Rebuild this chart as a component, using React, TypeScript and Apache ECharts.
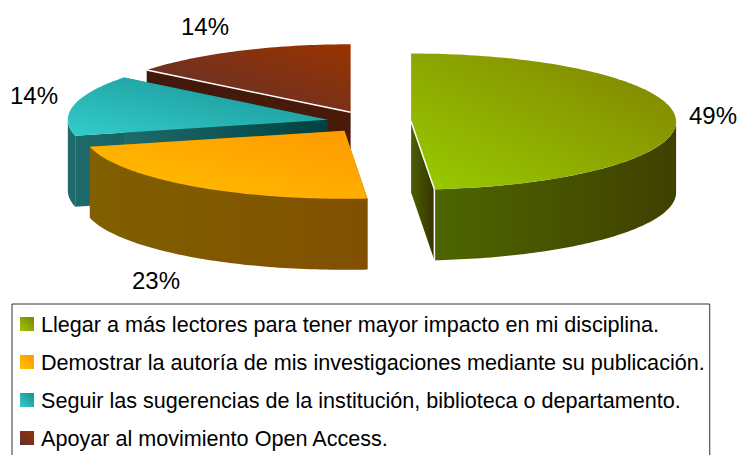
import React, { useEffect, useRef } from "react";
import * as echarts from "echarts";

const categories = [
  "Llegar a más lectores para tener mayor impacto en mi disciplina.",
  "Demostrar la autoría de mis investigaciones mediante su publicación.",
  "Seguir las sugerencias de la institución, biblioteca o departamento.",
  "Apoyar al movimiento Open Access.",
];
// The printed labels are these values rounded.
const values = [48.6, 22.6, 14.45, 14.35];

const topLight = ["#99CC00", "#FFC000", "#33CCCC", "#5C3030"];
const topDark = ["#808000", "#FF9900", "#189090", "#993300"];
const sideLeft = ["#4D6600", "#806000", "#1F6B6B", "#40180C"];
const sideRight = ["#404000", "#805000", "#004040", "#4A1A08"];
const wallLeft = ["#4D6000", "#806000", "#1F6B6B", "#40180C"];
const wallRight = ["#333300", "#806000", "#004040", "#4A1A08"];
const whiteEdges = [true, false, false, true];
const labelCenters: [number, number][] = [
  [713, 115],
  [156, 280],
  [34, 95],
  [205, 26],
];
const radiusX = [265, 262, 260, 260];

const CX = 369;
const CY = 122;
const RX = 265;
const RY = 68;
const DEPTH = 71;
const EXPLODE = 0.159;
const LABEL_FONT = "24px 'Liberation Sans', Arial, sans-serif";

const total = values.reduce((a, b) => a + b, 0);

function grad(a: string, b: string) {
  return new echarts.graphic.LinearGradient(0, 1, 1, 0, [
    { offset: 0, color: a },
    { offset: 1, color: b },
  ]);
}
function hgrad(a: string, b: string) {
  return new echarts.graphic.LinearGradient(0, 0, 1, 0, [
    { offset: 0, color: a },
    { offset: 1, color: b },
  ]);
}

function makeRenderItem(idx: number) {
  return (_params: any, api: any) => {
    const value = api.value(0);
    const before = values.slice(0, idx).reduce((a, b) => a + b, 0);
    const a0 = (before / total) * Math.PI * 2;
    const a1 = ((before + value) / total) * Math.PI * 2;
    const mid = (a0 + a1) / 2;
    const cx = CX + EXPLODE * RX * Math.sin(mid);
    const cy = CY - EXPLODE * RY * Math.cos(mid);
    const rx = radiusX[idx];
    const at = (t: number, dy = 0): number[] => [
      cx + rx * Math.sin(t),
      cy - RY * Math.cos(t) + dy,
    ];
    const arc = (s: number, e: number, dy = 0) => {
      const n = Math.max(2, Math.ceil((e - s) / 0.02));
      const out: number[][] = [];
      for (let i = 0; i <= n; i++) out.push(at(s + ((e - s) * i) / n, dy));
      return out;
    };
    const apex = [cx, cy];
    const apexLow = [cx, cy + DEPTH];
    const children: any[] = [];
    const wall = (t: number) => ({
      type: "polygon",
      shape: { points: [apex, at(t), at(t, DEPTH), apexLow] },
      style: { fill: hgrad(wallLeft[idx], wallRight[idx]) },
    });
    children.push(wall(a0), wall(a1));
    const rs = Math.max(a0, Math.PI / 2);
    const re = Math.min(a1, (Math.PI * 3) / 2);
    if (re > rs) {
      children.push({
        type: "polygon",
        shape: { points: [...arc(rs, re), ...arc(rs, re, DEPTH).reverse()] },
        style: { fill: idx === 2 ? sideLeft[idx] : hgrad(sideLeft[idx], sideRight[idx]) },
      });
    }
    children.push({
      type: "polygon",
      shape: { points: [apex, ...arc(a0, a1)] },
      style: { fill: grad(topLight[idx], topDark[idx]) },
    });
    if (whiteEdges[idx]) {
      const segs = idx === 0 ? [[apex, at(a1)], [at(a1), at(a1, DEPTH)]] : [[at(a0), apex]];
      segs.forEach((seg) => {
        children.push({
          type: "line",
          shape: { x1: seg[0][0], y1: seg[0][1], x2: seg[1][0], y2: seg[1][1] },
          style: { stroke: "#FFFFFF", lineWidth: 1.5 },
        });
      });
    }
    children.push({
      type: "text",
      style: {
        text: `${Math.round(value)}%`,
        x: labelCenters[idx][0],
        y: labelCenters[idx][1],
        align: "center",
        verticalAlign: "middle",
        font: LABEL_FONT,
        fill: "#000000",
      },
    });
    return { type: "group", children };
  };
}

// back-to-front paint order, legend keeps the category order
const paintOrder = [3, 2, 1, 0];

export default function App() {
  const ref = useRef<HTMLDivElement>(null);
  useEffect(() => {
    document.body.style.margin = "0";
    const chart = echarts.init(ref.current!, undefined, { renderer: "svg" });
    chart.setOption({
      animation: false,
      backgroundColor: "#FFFFFF",
      legend: {
        orient: "vertical",
        left: 12,
        top: 304,
        height: 500,
        padding: [9, 5, 14, 8],
        borderColor: "#333333",
        borderWidth: 1,
        itemWidth: 14,
        itemHeight: 14,
        itemGap: 16,
        icon: "rect",
        selectedMode: false,
        data: categories,
        textStyle: {
          fontFamily: "'Liberation Sans', Arial, sans-serif",
          fontSize: 21.6,
          color: "#000000",
          padding: [0, 0, 0, 2],
        },
      },
      series: paintOrder.map((i) => ({
        type: "custom",
        name: categories[i],
        coordinateSystem: "none",
        silent: true,
        itemStyle: { color: grad(topLight[i], topDark[i]) },
        data: [[values[i]]],
        renderItem: makeRenderItem(i),
      })),
    });
    return () => chart.dispose();
  }, []);
  return (
    <div
      ref={ref}
      style={{ position: "absolute", left: 0, top: 0, width: 739, height: 455, overflow: "hidden" }}
    />
  );
}
